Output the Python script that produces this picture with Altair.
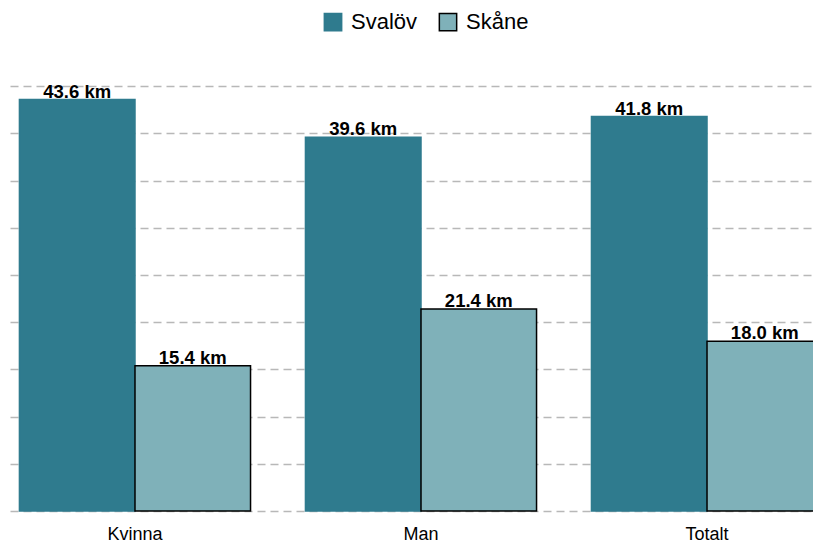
import altair as alt
import pandas as pd

groups = ["Kvinna", "Man", "Totalt"]
series_names = ["Svalöv", "Skåne"]
svalov = [43.6, 39.6, 41.8]
skane = [15.4, 21.4, 18.0]
fill_colors = ["#2f7b8e", "#7fb1b9"]
stroke_colors = ["#2f7b8e", "#000000"]
grid_values = [0, 5, 10, 15, 20, 25, 30, 35, 40, 45]

rows = []
for g, a, b in zip(groups, svalov, skane):
    rows.append({"grupp": g, "serie": series_names[0], "km": a})
    rows.append({"grupp": g, "serie": series_names[1], "km": b})
df = pd.DataFrame(rows)

FONT = "Liberation Sans"

x = alt.X(
    "grupp:N", sort=groups, title=None,
    scale=alt.Scale(range=[0, 822], paddingInner=0.192, paddingOuter=0.033),
    axis=alt.Axis(labelFontSize=18, ticks=False, domain=False, labelAngle=0,
                  labelPadding=14, labelColor="#000000", labelFont=FONT, grid=False),
)
xo = alt.XOffset("serie:N", sort=series_names,
                 scale=alt.Scale(paddingInner=0, paddingOuter=0))
y = alt.Y(
    "km:Q", title=None,
    scale=alt.Scale(domain=[0, 48], nice=False),
    axis=alt.Axis(values=grid_values, labels=False, ticks=False, domain=False,
                  grid=True, gridDash=[8, 5], gridColor="#b8b8b8", gridWidth=1.5),
)

legend = alt.Legend(
    orient="none", legendX=312, legendY=-47, direction="horizontal", title=None,
    symbolType="square", symbolSize=300, labelFontSize=22, labelFont=FONT,
    labelColor="#000000", labelOffset=7, columnPadding=18, padding=0,
    symbolStrokeWidth=1.5,
)

bars = alt.Chart(df).mark_bar(strokeWidth=1.5).encode(
    x=x, xOffset=xo, y=y,
    fill=alt.Fill("serie:N", sort=series_names,
                  scale=alt.Scale(domain=series_names, range=fill_colors), legend=legend),
    stroke=alt.Stroke("serie:N", sort=series_names,
                      scale=alt.Scale(domain=series_names, range=stroke_colors), legend=legend),
)

labels = alt.Chart(df).transform_calculate(
    lbl="format(datum.km, '.1f') + ' km'"
).mark_text(fontSize=18.5, fontWeight="bold", baseline="alphabetic", dy=-2,
            font=FONT, color="#000000").encode(
    x=x, xOffset=xo, y=y, text="lbl:N",
)

chart = alt.layer(bars, labels).properties(
    width=803, height=453,
    background="white",
    autosize=alt.AutoSizeParams(type="none"),
    padding={"left": 2, "top": 50, "right": 0, "bottom": 32},
).configure_view(stroke=None)

chart.save("out.html", embed_options={"renderer": "svg", "actions": False})
